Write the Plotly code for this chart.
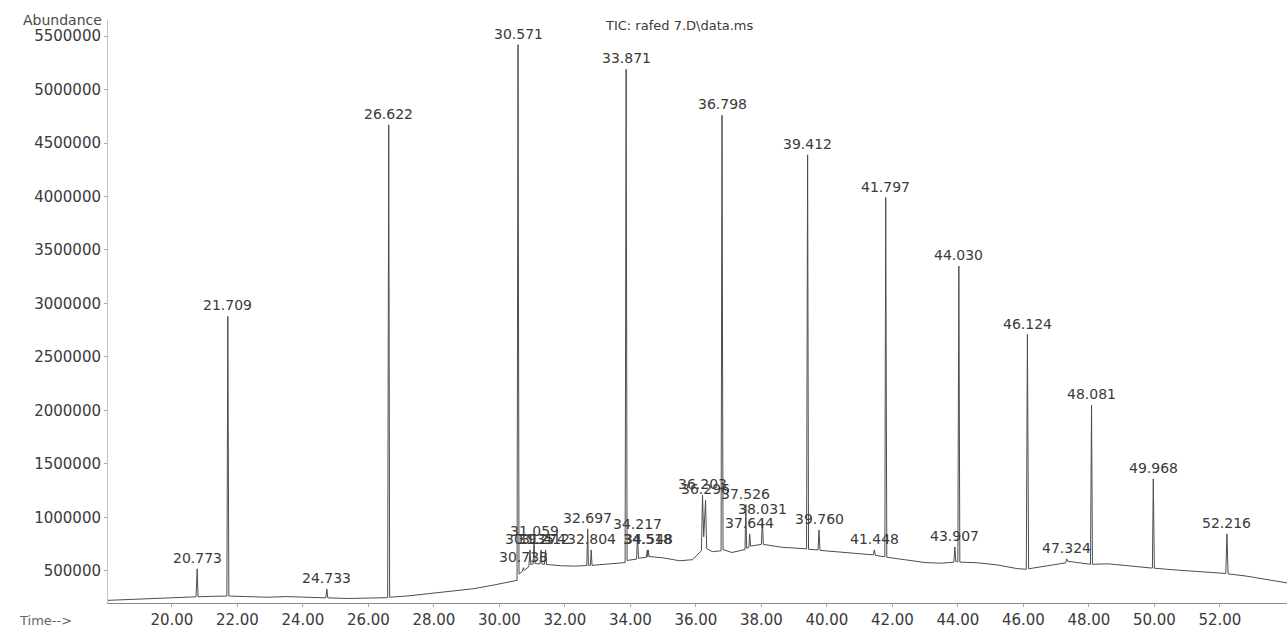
import plotly.graph_objects as go

# Baseline of the total ion chromatogram (retention time in min, abundance)
base_rt = [18.05, 18.6, 19.2, 19.8, 20.3, 20.74, 20.80, 21.2, 21.68, 21.74, 22.3, 22.9, 23.5, 24.1,
           24.70, 24.76, 25.4, 26.0, 26.59, 26.65, 27.2, 27.8, 28.5, 29.2, 29.8, 30.2, 30.54, 30.60,
           30.70, 30.76, 30.90, 30.96, 31.03, 31.09, 31.24, 31.30, 31.38, 31.44, 31.9, 32.3, 32.67,
           32.72, 32.78, 32.83, 33.3, 33.84, 33.90, 34.19, 34.25, 34.49, 34.53, 34.57, 35.0, 35.5,
           35.9, 36.17, 36.24, 36.33, 36.5, 36.77, 36.83, 37.1, 37.5, 37.55, 37.62, 37.67, 38.0,
           38.06, 38.6, 39.0, 39.38, 39.44, 39.73, 39.79, 40.3, 40.9, 41.42, 41.48, 41.77, 41.83,
           42.4, 43.0, 43.5, 43.88, 43.94, 44.00, 44.06, 44.6, 45.2, 45.8, 46.09, 46.16, 46.6, 47.0,
           47.29, 47.36, 47.6, 48.05, 48.11, 48.6, 49.3, 49.94, 50.0, 50.6, 51.3, 51.9, 52.18, 52.25,
           52.8, 53.4, 54.05]
base_abund = [225000, 232000, 238000, 245000, 252000, 258000, 258000, 262000, 265000, 265000, 260000,
              254000, 260000, 252000, 248000, 248000, 242000, 246000, 250000, 254000, 266000, 286000,
              308000, 333000, 366000, 390000, 412000, 470000, 495000, 505000, 540000, 560000, 565000,
              570000, 565000, 565000, 560000, 560000, 548000, 545000, 550000, 552000, 552000, 552000,
              562000, 578000, 598000, 610000, 618000, 628000, 632000, 635000, 622000, 595000, 605000,
              690000, 820000, 710000, 680000, 688000, 700000, 672000, 700000, 712000, 722000, 732000,
              748000, 748000, 722000, 712000, 706000, 702000, 696000, 692000, 680000, 664000, 650000,
              645000, 632000, 628000, 602000, 578000, 572000, 582000, 586000, 586000, 582000, 576000,
              556000, 522000, 515000, 520000, 540000, 560000, 575000, 590000, 580000, 562000, 562000,
              566000, 546000, 526000, 525000, 510000, 496000, 482000, 476000, 472000, 452000, 422000,
              388000]

# Integrated peaks (apex retention time, apex abundance)
peak_rt = [20.773, 21.709, 24.733, 26.622, 30.571, 30.733, 30.935, 31.059, 31.274, 31.412, 32.697,
           32.804, 33.871, 34.217, 34.518, 34.548, 36.203, 36.296, 36.798, 37.526, 37.644, 38.031,
           39.412, 39.760, 41.448, 41.797, 43.907, 44.030, 46.124, 47.324, 48.081, 49.968, 52.216]
peak_abund = [519000, 2880000, 330000, 4670000, 5420000, 530000, 696000, 770000, 696000, 696000,
              892000, 696000, 5190000, 836000, 696000, 696000, 1210000, 1160000, 4760000, 1120000,
              846000, 977000, 4390000, 883000, 696000, 3990000, 724000, 3350000, 2710000, 612000,
              2050000, 1360000, 846000]

y_ticks = [500000, 1000000, 1500000, 2000000, 2500000, 3000000, 3500000, 4000000, 4500000, 5000000, 5500000]
x_ticks = [20, 22, 24, 26, 28, 30, 32, 34, 36, 38, 40, 42, 44, 46, 48, 50, 52]

pts = sorted(list(zip(base_rt, base_abund)) + list(zip(peak_rt, peak_abund)))
xs = [p[0] for p in pts]
ys = [p[1] for p in pts]

FONT = "DejaVu Sans"
fig = go.Figure()
fig.add_trace(go.Scatter(x=xs, y=ys, mode="lines",
                         line=dict(color="#4d4d4d", width=1), hoverinfo="x+y",
                         showlegend=False))

for t, h in zip(peak_rt, peak_abund):
    fig.add_annotation(x=t, y=h, text=f"{t:.3f}", showarrow=False, xanchor="center",
                       yanchor="bottom", yshift=1,
                       font=dict(family=FONT, size=14, color="#3a3a3a"))

fig.add_annotation(xref="paper", yref="paper", x=0.42, y=0.99, text="TIC: rafed 7.D\\data.ms",
                   showarrow=False, xanchor="left", yanchor="middle",
                   font=dict(family=FONT, size=13, color="#3a3a3a"))
fig.add_annotation(xref="paper", yref="paper", x=-0.003, y=1.0, text="Abundance",
                   showarrow=False, xanchor="right", yanchor="middle",
                   font=dict(family=FONT, size=14, color="#4a4a4a"))
fig.add_annotation(xref="paper", yref="paper", x=-0.077, y=-0.03, text="Time-->",
                   showarrow=False, xanchor="left", yanchor="middle",
                   font=dict(family=FONT, size=13, color="#666666"))

fig.update_xaxes(range=[18.05, 54.05], tickvals=x_ticks,
                 ticktext=[f"{v:.2f}" for v in x_ticks],
                 showgrid=False, zeroline=False, showline=True, linecolor="#8a8a8a", linewidth=1,
                 ticks="outside", ticklen=3, tickcolor="#aaaaaa",
                 tickfont=dict(family=FONT, size=15, color="#3a3a3a"))
fig.update_yaxes(range=[200000, 5650000], tickvals=y_ticks,
                 ticktext=[str(v) for v in y_ticks],
                 showgrid=False, zeroline=False, showline=True, linecolor="#c4c4c4", linewidth=1,
                 ticks="outside", ticklen=3, tickcolor="#aaaaaa",
                 tickfont=dict(family=FONT, size=15, color="#3a3a3a"))
fig.update_layout(width=1287, height=632, margin=dict(l=108, r=0, t=20, b=29),
                  paper_bgcolor="white", plot_bgcolor="white")
fig.write_html("out.html")
